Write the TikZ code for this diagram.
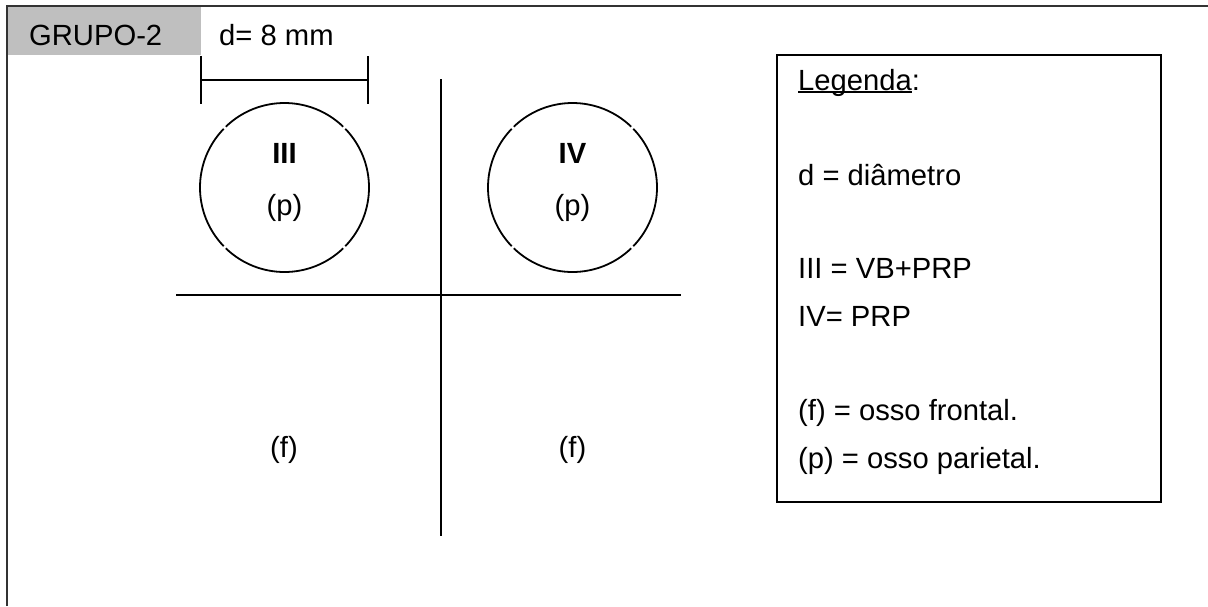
\documentclass[tikz,border=0pt]{standalone}
\usepackage{fontspec}
\setmainfont{Liberation Sans}
\usetikzlibrary{calc}
\newcommand\myul[1]{\setbox0\hbox{#1}\rlap{\rule[-3pt]{\wd0}{1.6pt}}#1}
\tikzset{
  lbl/.style={font=\fontsize{29.2}{34}\selectfont, inner sep=0pt},
  bl/.style={font=\fontsize{29.2}{34}\selectfont\bfseries, inner sep=0pt},
  ln/.style={line width=2pt, black},
  frame/.style={line width=2pt, black!80},
}
\begin{document}
\begin{tikzpicture}[x=1pt,y=-1pt]
\useasboundingbox (0,0) rectangle (1208,606);
% header
\fill[black!25] (8,7) rectangle (201,55);
\draw[frame] (7,606) -- (7,6) -- (1208,6);
\node[lbl, anchor=base west] (grp) at (29,45) {GRUPO-2};
\node[lbl, anchor=base west] (dim) at (219,45) {d= 8 mm};
% dimension bar
\coordinate (dl) at (201,80);
\coordinate (dr) at (368,80);
\draw[ln] (201,56) -- (201,104);
\draw[ln] (368,56) -- (368,104);
\draw[ln] (dl) -- (dr);
% cross
\coordinate (vt) at (440.5,79);
\coordinate (vb) at (440.5,536);
\coordinate (hl) at (176,295);
\coordinate (hr) at (681,295);
\draw[ln] (vt) -- (vb);
\draw[ln] (hl) -- (hr);
% circles with small gaps at diagonals
\foreach \cx/\nm in {284.5/cIII, 572.5/cIV}{
  \coordinate (\nm) at (\cx,187.5);
  \foreach \a in {46,136,226,316}{
    \draw[ln, line width=1.8pt] ($(\nm)+({84.5*cos(\a)},{-84.5*sin(\a)})$)
      arc[start angle=-\a, end angle=-\a-88, radius=84.5];
  }
}
\node[bl, anchor=base] (t3) at (284.5,163) {III};
\node[lbl, anchor=base] (p3) at (284.5,215) {(p)};
\node[bl, anchor=base] (t4) at (572.5,163) {IV};
\node[lbl, anchor=base] (p4) at (572.5,215) {(p)};
\node[lbl, anchor=base] (f3) at (284,457) {(f)};
\node[lbl, anchor=base] (f4) at (572.5,457) {(f)};
% legend
\draw[ln] (777,55) rectangle (1161,502);
\node[lbl, anchor=base west] (leg) at (798,90) {\myul{Legenda}:};
\node[lbl, anchor=base west] (l1) at (798,185) {d = diâmetro};
\node[lbl, anchor=base west] (l2) at (798,278) {III = VB+PRP};
\node[lbl, anchor=base west] (l3) at (798,326) {IV= PRP};
\node[lbl, anchor=base west] (l4) at (798,420) {(f) = osso frontal.};
\node[lbl, anchor=base west] (l5) at (798,468) {(p) = osso parietal.};
\end{tikzpicture}
\end{document}
